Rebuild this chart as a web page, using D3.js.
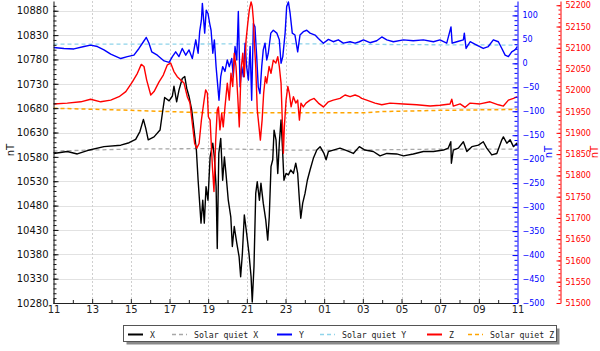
<!DOCTYPE html>
<html><head><meta charset="utf-8">
<script src="https://cdn.jsdelivr.net/npm/d3@7/dist/d3.min.js"></script>
<style>
html,body{margin:0;padding:0;background:#fff;}
svg{display:block;}
</style></head><body>
<svg id="chart" width="600" height="351"></svg>
<script>
// time = hours since 11:00 (0..24)
const xTickLabels = ["11","13","15","17","19","21","23","01","03","05","07","09","11"];

const xTimes = [0,0.71,1.23,1.75,2.61,3.48,3.91,4.25,4.47,4.65,4.77,4.90,5.20,5.51,5.63,5.75,5.98,6.15,6.23,6.37,6.49,6.66,6.79,6.89,7.01,7.15,7.27,7.39,7.48,7.56,7.63,7.72,7.80,7.89,7.99,8.10,8.24,8.32,8.41,8.47,8.55,8.65,8.75,8.84,8.92,9.04,9.17,9.25,9.35,9.48,9.60,9.68,9.77,9.87,9.99,10.11,10.22,10.28,10.37,10.46,10.54,10.65,10.73,10.85,10.98,11.08,11.16,11.25,11.34,11.41,11.51,11.60,11.68,11.77,11.84,11.92,12.03,12.15,12.27,12.41,12.53,12.63,12.72,12.79,12.89,13.01,13.13,13.27,13.44,13.62,13.79,13.99,14.10,14.22,14.47,14.82,15.17,15.51,15.82,16.11,16.54,16.89,17.24,17.75,18.10,18.61,19.13,19.65,20.17,20.42,20.55,20.58,20.68,20.94,21.20,21.38,21.64,21.98,22.23,22.41,22.67,22.93,23.19,23.27,23.45,23.62,23.79,23.96,24];
const xValues = [10587,10591,10586,10593,10601,10604,10609,10616,10632,10657,10639,10615,10621,10635,10669,10702,10695,10705,10725,10693,10717,10741,10745,10721,10704,10676,10635,10594,10532,10485,10444,10491,10444,10519,10491,10580,10608,10580,10519,10392,10587,10618,10532,10580,10546,10491,10457,10396,10437,10403,10375,10334,10382,10461,10423,10382,10334,10282,10355,10505,10529,10491,10526,10485,10450,10409,10457,10560,10574,10635,10615,10546,10608,10656,10601,10532,10546,10543,10553,10546,10567,10546,10491,10454,10485,10505,10532,10553,10577,10594,10601,10587,10574,10591,10594,10598,10593,10587,10601,10594,10591,10582,10587,10586,10582,10586,10591,10591,10594,10598,10611,10567,10594,10598,10611,10591,10601,10604,10611,10598,10584,10587,10615,10621,10608,10615,10601,10608,10604];

const yTimes = [0,0.54,1.06,1.58,1.92,2.27,2.61,2.96,3.48,3.82,4.16,4.42,4.65,4.80,4.94,5.08,5.37,5.72,5.98,6.15,6.32,6.49,6.66,6.84,7.01,7.18,7.36,7.48,7.56,7.65,7.70,7.82,7.90,7.99,8.08,8.15,8.24,8.32,8.41,8.47,8.56,8.65,8.75,8.87,8.99,9.09,9.22,9.30,9.39,9.48,9.56,9.65,9.74,9.82,9.91,9.99,10.08,10.17,10.25,10.34,10.42,10.51,10.59,10.68,10.77,10.85,10.94,11.03,11.11,11.24,11.37,11.55,11.68,11.77,11.86,11.98,12.06,12.15,12.24,12.35,12.49,12.63,12.75,12.92,13.10,13.27,13.53,13.70,13.96,14.22,14.47,14.73,14.99,15.34,15.60,15.82,16.03,16.37,16.72,16.98,17.24,17.58,18.10,18.61,19.13,19.65,19.99,20.34,20.56,20.62,20.86,21.20,21.25,21.34,21.55,21.89,22.23,22.49,22.75,23.01,23.19,23.36,23.53,23.70,23.87,24];
const yValues = [33,31,30,35,38,35,28,19,10,14,17,31,45,54,42,24,17,5,2,14,24,14,31,17,28,10,49,21,66,90,125,63,111,104,83,69,21,49,-7,-35,-77,-28,-7,-17,7,-7,10,-28,35,7,108,-49,-7,-28,42,-7,-35,35,-77,83,76,14,-49,-63,-7,28,42,7,21,63,69,63,49,0,14,63,118,128,104,63,59,24,59,66,69,63,59,52,42,50,45,49,42,45,42,45,49,43,47,55,49,45,49,47,49,45,49,42,76,42,45,49,63,31,45,38,31,35,49,45,31,17,14,24,28,35];

const zTimes = [0,0.71,1.41,1.92,2.44,2.96,3.39,3.74,4.08,4.34,4.54,4.68,4.82,5.03,5.20,5.46,5.68,5.89,6.06,6.23,6.40,6.58,6.75,6.92,7.06,7.18,7.30,7.41,7.53,7.65,7.79,7.87,7.96,8.01,8.10,8.22,8.30,8.39,8.47,8.53,8.61,8.70,8.78,8.87,8.99,9.09,9.18,9.27,9.35,9.44,9.53,9.61,9.70,9.79,9.87,9.96,10.05,10.13,10.22,10.28,10.34,10.39,10.46,10.54,10.63,10.70,10.79,10.87,10.96,11.03,11.15,11.25,11.37,11.50,11.60,11.68,11.77,11.84,11.89,11.94,12.03,12.12,12.20,12.29,12.41,12.53,12.63,12.72,12.80,12.92,13.06,13.27,13.48,13.70,13.96,14.22,14.47,14.82,15.08,15.34,15.60,15.82,15.94,16.20,16.63,16.98,17.41,18.10,18.79,19.48,19.99,20.51,20.60,20.68,21.03,21.29,21.55,22.06,22.58,23.01,23.27,23.53,23.79,24];
const zValues = [51968,51970,51973,51979,51973,51977,51985,51997,52020,52040,52061,52056,52024,51989,51997,52020,52036,52060,52064,52044,52032,52024,52017,51985,51970,51922,51875,51864,51875,51930,51977,52001,51993,51938,51930,51820,51762,51883,51954,51961,51907,51946,51914,51961,52017,51977,52040,52009,52087,52056,51985,51914,52048,52087,52032,52118,52158,52189,52208,52197,52165,52111,52056,51954,51914,51883,51930,51993,52032,52017,52056,52040,52071,52064,52079,52056,52017,51922,51852,51914,51977,52009,51993,51961,51985,51970,51977,51930,51970,51961,51970,51977,51981,51970,51961,51973,51977,51981,51989,51985,51989,51985,51981,51977,51970,51966,51970,51968,51966,51963,51965,51968,51979,51963,51968,51960,51970,51968,51973,51966,51963,51977,51981,51985];

const sqXTimes = [0,4,8,12,16,20,24];
const sqXValues = [10592,10596,10597,10594,10594,10596,10596];
const sqYTimes = [0,6,12,18,24];
const sqYValues = [40,40,41,39,38];
const sqZTimes = [0,4,8,12,16,17,20,24];
const sqZValues = [51958,51953,51947,51947,51947,51950,51953,51955];

const legendLabels = ["X","Solar quiet X","Y","Solar quiet Y","Z","Solar quiet Z"];

// ---------------- drawing ----------------
const svg = d3.select("#chart");
const L = 53.5, R = 517.5, T = 1, B = 303, RZ = 560.5;
const x = d3.scaleLinear().domain([0,24]).range([L,R]);
const yX = d3.scaleLinear().domain([10280,10900]).range([B,T]);
const yY = d3.scaleLinear().domain([-500,130]).range([B,T]);
const yZ = d3.scaleLinear().domain([51500,52210]).range([B,T]);
const zip = (a,b) => a.map((t,i)=>[t,b[i]]);
const FONT = "DejaVu Sans, sans-serif";

svg.append("defs").append("clipPath").attr("id","plotclip")
  .append("rect").attr("x",L).attr("y",0).attr("width",R-L).attr("height",B);

// grid
const grid = svg.append("g");
grid.selectAll("line.h").data(d3.range(10330,10881,50)).join("line")
  .attr("x1",L).attr("x2",R)
  .attr("y1",d=>Math.round(yX(d))+0.5).attr("y2",d=>Math.round(yX(d))+0.5)
  .attr("stroke","#e2e2e2").attr("stroke-width",1.2);
grid.selectAll("line.v").data(d3.range(2,24,2)).join("line")
  .attr("x1",d=>Math.round(x(d))+0.5).attr("x2",d=>Math.round(x(d))+0.5)
  .attr("y1",T).attr("y2",B)
  .attr("stroke","#cfcfcf").attr("stroke-dasharray","2,2").attr("stroke-width",1);

// series
const plot = svg.append("g").attr("clip-path","url(#plotclip)");
function drawLine(data, yScale, color, dash, width){
  plot.append("path").datum(data)
    .attr("fill","none").attr("stroke",color).attr("stroke-width",width)
    .attr("stroke-dasharray",dash||null).attr("stroke-linejoin","round")
    .attr("d", d3.line().x(d=>x(d[0])).y(d=>yScale(d[1])));
}
drawLine(zip(sqXTimes,sqXValues), yX, "#a8a8a8", "4,3", 1.3);
drawLine(zip(sqYTimes,sqYValues), yY, "#8fd4ea", "4,3", 1.3);
drawLine(zip(sqZTimes,sqZValues), yZ, "#ffa500", "4,3", 1.5);
drawLine(zip(xTimes,xValues), yX, "#000000", null, 1.4);
drawLine(zip(yTimes,yValues), yY, "#0000ff", null, 1.4);
drawLine(zip(zTimes,zValues), yZ, "#ff0000", null, 1.4);

function styleAxis(g, color, size){
  g.selectAll(".domain").attr("stroke",color);
  g.selectAll(".tick line").attr("stroke",color);
  g.selectAll("text").attr("fill",color).attr("font-family",FONT).attr("font-size",size);
}

// left axis
const gL = svg.append("g").attr("transform",`translate(${L},0)`);
gL.call(d3.axisLeft(yX).tickValues(d3.range(10280,10881,50)).tickSize(-5).tickSizeOuter(0).tickPadding(5).tickFormat(d3.format("d")));
styleAxis(gL,"#111",10);
const gLm = svg.append("g").attr("transform",`translate(${L},0)`);
gLm.call(d3.axisLeft(yX).tickValues(d3.range(10280,10900,10)).tickSize(-3).tickFormat(""));
gLm.select(".domain").remove(); styleAxis(gLm,"#111",10);

// bottom axis
const gB = svg.append("g").attr("transform",`translate(0,${B})`);
gB.call(d3.axisBottom(x).tickValues(d3.range(0,25,2)).tickSize(-4).tickSizeOuter(0).tickPadding(3).tickFormat((d,i)=>xTickLabels[i]));
styleAxis(gB,"#222",10);
const gBm = svg.append("g").attr("transform",`translate(0,${B})`);
gBm.call(d3.axisBottom(x).tickValues(d3.range(1,24,2)).tickSize(-3).tickFormat(""));
gBm.select(".domain").remove(); styleAxis(gBm,"#222",10);

// blue axis
const gY = svg.append("g").attr("transform",`translate(${R},0)`);
gY.call(d3.axisRight(yY).tickValues(d3.range(-500,101,50)).tickSize(-5).tickSizeOuter(0).tickPadding(5).tickFormat(d3.format("d")));
styleAxis(gY,"#0000ff",8);
const gYm = svg.append("g").attr("transform",`translate(${R},0)`);
gYm.call(d3.axisRight(yY).tickValues(d3.range(-500,130,10)).tickSize(-3).tickFormat(""));
gYm.select(".domain").remove(); styleAxis(gYm,"#0000ff",8);

// red axis
const gZ = svg.append("g").attr("transform",`translate(${RZ},0)`);
gZ.call(d3.axisRight(yZ).tickValues(d3.range(51500,52201,50)).tickSize(-4).tickSizeOuter(0).tickPadding(5).tickFormat(d3.format("d")));
styleAxis(gZ,"#ff0000",8);
const gZm = svg.append("g").attr("transform",`translate(${RZ},0)`);
gZm.call(d3.axisRight(yZ).tickValues(d3.range(51500,52210,10)).tickSize(-2).tickFormat(""));
gZm.select(".domain").remove(); styleAxis(gZm,"#ff0000",8);

// unit labels
const unit = (cx,cy,color)=> svg.append("text").attr("transform",`translate(${cx},${cy}) rotate(-90)`)
  .attr("text-anchor","middle").attr("font-family",FONT).attr("font-size",10).attr("fill",color).text("nT");
unit(14,150,"#111"); unit(552,152,"#0000ff"); unit(598,152,"#ff0000");

// legend
const lg = svg.append("g");
lg.append("rect").attr("x",126.5).attr("y",328.5).attr("width",433).attr("height",16).attr("fill","#8a8a8a");
lg.append("rect").attr("x",123.5).attr("y",325.5).attr("width",433).attr("height",16).attr("fill","#fff").attr("stroke","#555");
const swX = [128,172,277,320,427,468];
const legColors = ["#000000","#a8a8a8","#0000ff","#8fd4ea","#ff0000","#ffa500"];
legendLabels.forEach((lab,i)=>{
  const dashed = i%2===1;
  lg.append("line").attr("x1",swX[i]).attr("x2",swX[i]+15).attr("y1",334.5).attr("y2",334.5)
    .attr("stroke",legColors[i]).attr("stroke-width",dashed?1.5:2)
    .attr("stroke-dasharray",dashed?"4,3":null);
  lg.append("text").attr("x",swX[i]+22).attr("y",337.5)
    .attr("font-family","DejaVu Sans Mono, monospace").attr("font-size",8.2).attr("fill","#222").text(lab);
});
</script>
</body></html>
